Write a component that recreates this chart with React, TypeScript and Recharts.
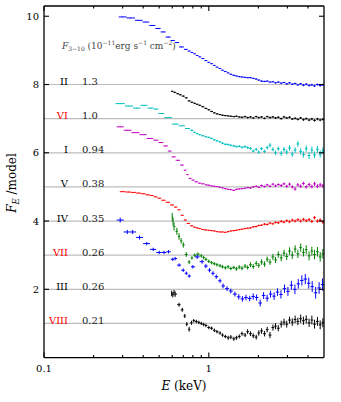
import React from 'react';
import { ScatterChart, Scatter, XAxis, YAxis, ErrorBar, ReferenceLine } from 'recharts';

type Pt = [number, number, number]; // [E (keV), F_E/model + offset, error]

const X_DOMAIN: [number, number] = [0.1, 5];
const Y_DOMAIN: [number, number] = [0, 10.3];
const X_MAJOR = [0.1, 1];
const X_TICKS = [0.1, 0.2, 0.3, 0.4, 0.5, 0.6, 0.7, 0.8, 0.9, 1, 2, 3, 4];
const Y_TICKS = [2, 4, 6, 8, 10];

const NAMES = ['II', 'VI', 'I', 'V', 'IV', 'VII', 'III', 'VIII'];
const FLUXES = ['1.3', '1.0', '0.94', '0.38', '0.35', '0.26', '0.26', '0.21'];
const BASELINES = [8, 7, 6, 5, 4, 3, 2, 1];

const SPEC_II: Pt[] = [
  [0.300, 9.98, 0.01], [0.335, 9.95, 0.01], [0.379, 9.88, 0.01], [0.415, 9.83, 0.01], [0.456, 9.73, 0.01],
  [0.493, 9.64, 0.01], [0.528, 9.54, 0.01], [0.567, 9.39, 0.01], [0.608, 9.29, 0.01], [0.637, 9.23, 0.01],
  [0.683, 9.10, 0.01], [0.73, 9.03, 0.01], [0.76, 8.98, 0.01], [0.79, 8.94, 0.01], [0.82, 8.90, 0.01],
  [0.85, 8.85, 0.01], [0.88, 8.81, 0.01], [0.92, 8.76, 0.01], [0.96, 8.70, 0.01], [1.00, 8.65, 0.01],
  [1.04, 8.61, 0.01], [1.08, 8.56, 0.01], [1.12, 8.51, 0.01], [1.17, 8.47, 0.01], [1.21, 8.42, 0.01],
  [1.26, 8.38, 0.01], [1.31, 8.34, 0.01], [1.36, 8.30, 0.015], [1.42, 8.27, 0.015], [1.47, 8.25, 0.015],
  [1.53, 8.23, 0.015], [1.59, 8.22, 0.015], [1.66, 8.21, 0.015], [1.72, 8.20, 0.015], [1.79, 8.20, 0.015],
  [1.86, 8.18, 0.015], [1.94, 8.16, 0.02], [2.01, 8.13, 0.02], [2.09, 8.10, 0.02], [2.18, 8.09, 0.02],
  [2.26, 8.10, 0.02], [2.35, 8.07, 0.02], [2.45, 8.08, 0.02], [2.54, 8.05, 0.02], [2.64, 8.07, 0.02],
  [2.75, 8.04, 0.02], [2.86, 8.06, 0.02], [2.97, 8.02, 0.025], [3.09, 8.05, 0.025], [3.21, 8.01, 0.025],
  [3.34, 8.03, 0.025], [3.47, 7.99, 0.025], [3.61, 8.02, 0.025], [3.75, 7.98, 0.03], [3.90, 8.01, 0.03],
  [4.06, 7.97, 0.03], [4.22, 7.99, 0.03], [4.38, 7.96, 0.03], [4.56, 8.00, 0.03], [4.74, 7.97, 0.03],
  [4.92, 7.99, 0.03],
];

const SPEC_VI: Pt[] = [
  [0.60, 7.80, 0.02], [0.62, 7.77, 0.02], [0.65, 7.73, 0.02], [0.67, 7.70, 0.02], [0.70, 7.66, 0.02],
  [0.73, 7.61, 0.02], [0.76, 7.52, 0.02], [0.79, 7.48, 0.02], [0.82, 7.45, 0.02], [0.85, 7.42, 0.02],
  [0.88, 7.39, 0.02], [0.92, 7.35, 0.02], [0.96, 7.30, 0.02], [1.00, 7.26, 0.02], [1.04, 7.21, 0.02],
  [1.08, 7.17, 0.02], [1.12, 7.14, 0.02], [1.17, 7.12, 0.02], [1.21, 7.10, 0.02], [1.26, 7.09, 0.02],
  [1.31, 7.08, 0.02], [1.36, 7.07, 0.02], [1.42, 7.06, 0.02], [1.47, 7.07, 0.02], [1.53, 7.05, 0.02],
  [1.59, 7.04, 0.025], [1.66, 7.06, 0.025], [1.72, 7.03, 0.025], [1.79, 7.05, 0.025], [1.86, 7.02, 0.025],
  [1.94, 7.06, 0.025], [2.01, 7.03, 0.025], [2.09, 7.05, 0.025], [2.18, 7.01, 0.025], [2.26, 7.06, 0.025],
  [2.35, 7.03, 0.03], [2.45, 7.05, 0.03], [2.54, 7.02, 0.03], [2.64, 7.04, 0.03], [2.75, 7.00, 0.03],
  [2.86, 7.05, 0.03], [2.97, 7.02, 0.03], [3.09, 7.04, 0.03], [3.21, 6.99, 0.03], [3.34, 7.01, 0.03],
  [3.47, 6.98, 0.03], [3.61, 7.02, 0.03], [3.75, 6.97, 0.035], [3.90, 7.00, 0.035], [4.06, 6.96, 0.035],
  [4.22, 6.99, 0.035], [4.38, 6.95, 0.035], [4.56, 6.99, 0.035], [4.74, 6.96, 0.035], [4.92, 6.98, 0.035],
];

const SPEC_I: Pt[] = [
  [0.29, 7.44, 0.01], [0.33, 7.37, 0.01], [0.365, 7.31, 0.01], [0.405, 7.39, 0.01], [0.445, 7.31, 0.01],
  [0.48, 7.28, 0.01], [0.51, 7.15, 0.01], [0.565, 7.03, 0.01], [0.63, 6.84, 0.01], [0.685, 6.79, 0.01],
  [0.75, 6.71, 0.015], [0.79, 6.66, 0.02], [0.82, 6.60, 0.02], [0.85, 6.56, 0.02], [0.88, 6.53, 0.02],
  [0.92, 6.50, 0.02], [0.96, 6.47, 0.02], [1.00, 6.45, 0.025], [1.04, 6.42, 0.025], [1.08, 6.38, 0.025],
  [1.12, 6.35, 0.025], [1.17, 6.32, 0.025], [1.21, 6.28, 0.03], [1.26, 6.25, 0.03], [1.31, 6.24, 0.03],
  [1.36, 6.22, 0.03], [1.42, 6.20, 0.03], [1.47, 6.18, 0.03], [1.53, 6.19, 0.03], [1.59, 6.16, 0.035],
  [1.66, 6.18, 0.035], [1.72, 6.15, 0.035], [1.79, 6.13, 0.04], [1.86, 6.05, 0.04], [1.94, 6.10, 0.04],
  [2.01, 6.02, 0.05], [2.09, 6.12, 0.05], [2.18, 6.04, 0.05], [2.26, 6.15, 0.05], [2.35, 6.22, 0.06],
  [2.45, 6.10, 0.06], [2.54, 6.00, 0.06], [2.64, 6.12, 0.06], [2.75, 5.98, 0.07], [2.86, 6.10, 0.07],
  [2.97, 6.02, 0.07], [3.09, 6.14, 0.08], [3.21, 5.96, 0.08], [3.34, 6.08, 0.08], [3.47, 6.26, 0.08],
  [3.61, 6.04, 0.09], [3.75, 5.95, 0.09], [3.90, 6.12, 0.09], [4.06, 5.92, 0.1], [4.22, 6.08, 0.1],
  [4.38, 5.94, 0.1], [4.56, 6.10, 0.1], [4.74, 5.96, 0.1], [4.92, 6.06, 0.1],
];

const SPEC_V: Pt[] = [
  [0.29, 6.76, 0.01], [0.32, 6.66, 0.01], [0.36, 6.59, 0.01], [0.40, 6.53, 0.01], [0.44, 6.42, 0.01],
  [0.48, 6.37, 0.01], [0.51, 6.30, 0.01], [0.55, 6.20, 0.01], [0.58, 6.05, 0.01], [0.61, 5.88, 0.01],
  [0.65, 5.78, 0.01], [0.69, 5.64, 0.01], [0.72, 5.49, 0.01], [0.74, 5.36, 0.01], [0.77, 5.25, 0.01],
  [0.80, 5.20, 0.01], [0.84, 5.15, 0.01], [0.88, 5.11, 0.01], [0.92, 5.09, 0.01], [0.97, 5.06, 0.015],
  [1.00, 5.05, 0.015], [1.04, 5.03, 0.015], [1.08, 5.02, 0.015], [1.12, 5.01, 0.015], [1.17, 4.99, 0.015],
  [1.21, 4.97, 0.015], [1.26, 4.95, 0.02], [1.31, 4.93, 0.02], [1.36, 4.92, 0.02], [1.42, 4.90, 0.02],
  [1.47, 4.93, 0.02], [1.53, 4.94, 0.02], [1.59, 4.95, 0.02], [1.66, 4.96, 0.02], [1.72, 4.98, 0.02],
  [1.79, 4.97, 0.025], [1.86, 5.00, 0.025], [1.94, 5.02, 0.025], [2.01, 4.99, 0.025], [2.09, 5.04, 0.03],
  [2.18, 5.01, 0.03], [2.26, 5.06, 0.03], [2.35, 5.02, 0.03], [2.45, 5.08, 0.035], [2.54, 5.03, 0.035],
  [2.64, 5.07, 0.035], [2.75, 5.04, 0.04], [2.86, 5.09, 0.04], [2.97, 5.02, 0.04], [3.09, 5.08, 0.045],
  [3.21, 5.00, 0.045], [3.34, 4.94, 0.05], [3.47, 5.06, 0.05], [3.61, 5.02, 0.05], [3.75, 5.10, 0.05],
  [3.90, 5.00, 0.05], [4.06, 5.07, 0.055], [4.22, 5.01, 0.055], [4.38, 5.09, 0.06], [4.56, 5.02, 0.06],
  [4.74, 5.06, 0.06], [4.92, 5.03, 0.06],
];

const SPEC_IV: Pt[] = [
  [0.30, 4.86, 0.01], [0.325, 4.85, 0.01], [0.35, 4.84, 0.01], [0.375, 4.82, 0.01], [0.40, 4.80, 0.01],
  [0.425, 4.77, 0.01], [0.45, 4.75, 0.01], [0.475, 4.71, 0.01], [0.50, 4.67, 0.01], [0.53, 4.61, 0.01],
  [0.565, 4.55, 0.01], [0.60, 4.47, 0.01], [0.63, 4.41, 0.01], [0.66, 4.33, 0.01], [0.69, 4.17, 0.015],
  [0.72, 4.03, 0.015], [0.75, 3.93, 0.015], [0.79, 3.86, 0.015], [0.82, 3.82, 0.015], [0.85, 3.80, 0.015],
  [0.88, 3.78, 0.015], [0.92, 3.75, 0.015], [0.96, 3.74, 0.015], [1.00, 3.73, 0.015], [1.04, 3.72, 0.015],
  [1.08, 3.71, 0.015], [1.12, 3.69, 0.015], [1.17, 3.68, 0.015], [1.21, 3.68, 0.015], [1.26, 3.67, 0.015],
  [1.31, 3.69, 0.02], [1.36, 3.71, 0.02], [1.42, 3.72, 0.02], [1.47, 3.73, 0.02], [1.53, 3.75, 0.02],
  [1.59, 3.76, 0.02], [1.66, 3.78, 0.02], [1.72, 3.79, 0.02], [1.79, 3.80, 0.025], [1.86, 3.83, 0.025],
  [1.94, 3.84, 0.025], [2.01, 3.87, 0.025], [2.09, 3.88, 0.025], [2.18, 3.91, 0.03], [2.26, 3.90, 0.03],
  [2.35, 3.94, 0.03], [2.45, 3.92, 0.03], [2.54, 3.96, 0.03], [2.64, 3.95, 0.035], [2.75, 3.99, 0.035],
  [2.86, 3.97, 0.035], [2.97, 4.01, 0.035], [3.09, 3.98, 0.04], [3.21, 4.03, 0.04], [3.34, 4.00, 0.04],
  [3.47, 4.04, 0.04], [3.61, 4.00, 0.045], [3.75, 4.05, 0.045], [3.90, 4.01, 0.045], [4.06, 4.04, 0.05],
  [4.22, 3.99, 0.05], [4.38, 4.10, 0.05], [4.56, 4.00, 0.05], [4.74, 4.03, 0.05], [4.92, 3.97, 0.05],
];

const SPEC_VII: Pt[] = [
  [0.600, 4.12, 0.12], [0.607, 3.98, 0.12], [0.615, 3.84, 0.12], [0.64, 3.70, 0.1], [0.66, 3.55, 0.1],
  [0.68, 3.42, 0.08], [0.70, 3.30, 0.08], [0.73, 3.02, 0.07], [0.76, 2.80, 0.06], [0.79, 2.92, 0.05],
  [0.82, 3.00, 0.05], [0.86, 3.03, 0.05], [0.90, 2.98, 0.05], [0.93, 2.93, 0.05], [0.96, 2.88, 0.05],
  [1.00, 2.82, 0.05], [1.04, 2.78, 0.05], [1.08, 2.75, 0.05], [1.12, 2.72, 0.05], [1.17, 2.69, 0.05],
  [1.21, 2.66, 0.05], [1.26, 2.63, 0.05], [1.31, 2.66, 0.05], [1.36, 2.61, 0.05], [1.42, 2.64, 0.05],
  [1.47, 2.60, 0.06], [1.53, 2.65, 0.06], [1.59, 2.62, 0.06], [1.66, 2.68, 0.06], [1.72, 2.64, 0.06],
  [1.79, 2.72, 0.07], [1.86, 2.67, 0.07], [1.94, 2.76, 0.07], [2.01, 2.70, 0.07], [2.09, 2.80, 0.08],
  [2.18, 2.74, 0.08], [2.26, 2.88, 0.08], [2.35, 2.80, 0.08], [2.45, 2.95, 0.09], [2.54, 2.86, 0.09],
  [2.64, 3.02, 0.09], [2.75, 2.92, 0.1], [2.86, 3.06, 0.1], [2.97, 2.96, 0.1], [3.09, 3.12, 0.11],
  [3.21, 3.00, 0.11], [3.34, 3.18, 0.11], [3.47, 3.04, 0.12], [3.61, 3.22, 0.12], [3.75, 3.08, 0.12],
  [3.90, 3.16, 0.13], [4.06, 2.98, 0.13], [4.22, 3.12, 0.13], [4.38, 3.02, 0.14], [4.56, 3.10, 0.14],
  [4.74, 2.95, 0.14], [4.92, 3.04, 0.14],
];

const SPEC_III: Pt[] = [
  [0.29, 4.03, 0.07], [0.32, 3.68, 0.06], [0.345, 3.68, 0.06], [0.38, 3.52, 0.06], [0.42, 3.34, 0.05],
  [0.46, 3.17, 0.05], [0.50, 3.08, 0.05], [0.535, 3.08, 0.05], [0.57, 3.10, 0.05], [0.605, 2.88, 0.05],
  [0.625, 2.90, 0.05], [0.66, 2.71, 0.05], [0.70, 2.56, 0.05], [0.73, 2.47, 0.05], [0.76, 2.39, 0.05],
  [0.80, 2.66, 0.05], [0.85, 2.95, 0.06], [0.91, 2.81, 0.06], [0.96, 2.68, 0.06], [1.01, 2.56, 0.06],
  [1.06, 2.47, 0.06], [1.11, 2.37, 0.06], [1.17, 2.25, 0.06], [1.22, 2.10, 0.07], [1.29, 2.02, 0.07],
  [1.36, 1.95, 0.07], [1.44, 1.86, 0.07], [1.52, 1.78, 0.08], [1.60, 1.72, 0.08], [1.68, 1.76, 0.08],
  [1.77, 1.73, 0.08], [1.86, 1.79, 0.09], [1.95, 1.76, 0.09], [2.05, 1.60, 0.1], [2.15, 1.82, 0.1],
  [2.26, 1.74, 0.1], [2.37, 1.86, 0.1], [2.49, 1.80, 0.11], [2.61, 1.92, 0.11], [2.74, 1.85, 0.12],
  [2.88, 2.02, 0.12], [3.02, 1.94, 0.13], [3.17, 2.12, 0.13], [3.33, 2.00, 0.14], [3.49, 2.16, 0.14],
  [3.67, 2.26, 0.15], [3.85, 2.30, 0.15], [4.04, 2.18, 0.16], [4.24, 2.08, 0.16], [4.45, 1.90, 0.17],
  [4.67, 2.04, 0.17], [4.90, 2.14, 0.18],
];

const SPEC_VIII: Pt[] = [
  [0.595, 1.88, 0.08], [0.605, 1.84, 0.08], [0.615, 1.90, 0.08], [0.625, 1.86, 0.08], [0.66, 1.55, 0.06],
  [0.69, 1.40, 0.06], [0.715, 1.22, 0.06], [0.735, 0.98, 0.06], [0.76, 0.83, 0.07], [0.785, 1.02, 0.06],
  [0.81, 1.08, 0.05], [0.84, 1.06, 0.05], [0.87, 1.03, 0.05], [0.90, 1.00, 0.05], [0.93, 0.97, 0.05],
  [0.96, 0.94, 0.05], [1.00, 0.88, 0.05], [1.04, 0.86, 0.05], [1.08, 0.80, 0.05], [1.12, 0.76, 0.05],
  [1.17, 0.72, 0.05], [1.21, 0.66, 0.05], [1.26, 0.62, 0.05], [1.31, 0.58, 0.06], [1.36, 0.60, 0.06],
  [1.42, 0.55, 0.06], [1.47, 0.58, 0.06], [1.53, 0.62, 0.06], [1.59, 0.70, 0.06], [1.66, 0.66, 0.06],
  [1.72, 0.76, 0.07], [1.79, 0.70, 0.07], [1.86, 0.64, 0.07], [1.94, 0.60, 0.07], [2.01, 0.72, 0.08],
  [2.09, 0.78, 0.08], [2.18, 0.70, 0.08], [2.26, 0.82, 0.08], [2.35, 0.66, 0.09], [2.45, 0.88, 0.09],
  [2.54, 0.92, 0.09], [2.64, 0.86, 0.09], [2.75, 0.98, 0.1], [2.86, 1.04, 0.1], [2.97, 0.98, 0.1],
  [3.09, 1.10, 0.1], [3.21, 1.04, 0.11], [3.34, 1.12, 0.11], [3.47, 1.06, 0.11], [3.61, 1.14, 0.12],
  [3.75, 1.08, 0.12], [3.90, 1.12, 0.12], [4.06, 1.02, 0.12], [4.22, 1.10, 0.13], [4.38, 0.98, 0.13],
  [4.56, 1.06, 0.13], [4.74, 0.96, 0.13], [4.92, 1.02, 0.13],
];

const SPECTRA: Pt[][] = [SPEC_II, SPEC_VI, SPEC_I, SPEC_V, SPEC_IV, SPEC_VII, SPEC_III, SPEC_VIII];

// styles
const SERIES_COLORS = ['#0000ff', '#000000', '#00bfbf', '#bf00bf', '#ff0000', '#008000', '#0000ff', '#000000'];
const NAME_COLORS = ['#000000', '#ff0000', '#000000', '#000000', '#000000', '#ff0000', '#000000', '#ff0000'];
const FONT = '"DejaVu Serif", serif';
const FRAME_W = 1.3;
const TICK_W = 1.1;
// tick lengths expressed in axis units (≈5px and ≈2.5px inward)
const Y_TICK_LEN_MAJOR = 0.146;
const Y_TICK_LEN_MINOR = 0.073;
const X_TICK_FACTOR = Math.pow(10, 5 / 165);

function toRows(pts: Pt[]) {
  return pts.map((p, i) => {
    const prev = i > 0 ? pts[i - 1][0] : (p[0] * p[0]) / pts[i + 1][0];
    const next = i < pts.length - 1 ? pts[i + 1][0] : (p[0] * p[0]) / pts[i - 1][0];
    const lo = Math.sqrt(prev * p[0]);
    const hi = Math.sqrt(p[0] * next);
    return { E: p[0], F: p[1], dF: p[2], dE: [p[0] - lo, hi - p[0]] };
  });
}

const BottomTick = (props: any) => {
  const { x, y, payload } = props;
  const major = X_MAJOR.includes(payload.value);
  if (!major) return <g />;
  return (
    <text x={x} y={y + 14} textAnchor="middle" fontFamily={FONT} fontSize={10} fill="#000">
      {String(payload.value)}
    </text>
  );
};

const LeftTick = (props: any) => {
  const { x, y, payload } = props;
  return (
    <text x={x - 5} y={y} dy="0.36em" textAnchor="end" fontFamily={FONT} fontSize={10} fill="#000">
      {String(payload.value)}
    </text>
  );
};

const seriesLabel = (i: number) => (props: any) => {
  const vb = props.viewBox || {};
  const x = vb.x ?? 44;
  const y = vb.y ?? 0;
  return (
    <g>
      <text x={x + 24} y={y + 0.5} textAnchor="end" fontFamily={FONT} fontSize={10} fill={NAME_COLORS[i]}>
        {NAMES[i]}
      </text>
      <text x={x + 38} y={y + 0.5} textAnchor="start" fontFamily={FONT} fontSize={10} fill="#222">
        {FLUXES[i]}
      </text>
    </g>
  );
};

const headerLabel = () => (
  <text x={62} y={49} fontFamily={FONT} fontSize={9} fill="#444">
    <tspan fontStyle="italic">F</tspan>
    <tspan fontSize={6} dy={2}>3−10</tspan>
    <tspan dy={-2}> (10</tspan>
    <tspan fontSize={6} dy={-4}>−11</tspan>
    <tspan dy={4}>erg s</tspan>
    <tspan fontSize={6} dy={-4}>−1</tspan>
    <tspan dy={4}>  cm</tspan>
    <tspan fontSize={6} dy={-4}>−2</tspan>
    <tspan dy={4}>)</tspan>
  </text>
);

const xLabel = () => (
  <text x={184} y={389.5} textAnchor="middle" fontFamily={FONT} fontSize={12} fill="#000">
    <tspan fontStyle="italic">E</tspan>
    <tspan> (keV)</tspan>
  </text>
);

const yLabel = () => (
  <text
    x={16}
    y={183}
    transform="rotate(-90 16 183)"
    textAnchor="middle"
    fontFamily={FONT}
    fontSize={12}
    fill="#000"
  >
    <tspan fontStyle="italic">F</tspan>
    <tspan fontStyle="italic" fontSize={8.5} dy={2.5}>E</tspan>
    <tspan dy={-2.5}> /model</tspan>
  </text>
);

export default function App() {
  const rows = SPECTRA.map(toRows);
  const [x0, x1] = X_DOMAIN;
  const [y0, y1] = Y_DOMAIN;
  return (
    <div style={{ position: 'absolute', left: 0, top: 0, width: 341, height: 402, background: '#fff' }}>
      <ScatterChart
        width={341}
        height={402}
        margin={{ top: 0, right: 0, bottom: 14.4, left: 0 }}
      >
        <XAxis
          xAxisId="b"
          dataKey="E"
          type="number"
          scale="log"
          domain={X_DOMAIN}
          allowDataOverflow
          ticks={X_TICKS}
          interval={0}
          height={30}
          tickSize={0}
          tickMargin={0}
          tickLine={false}
          tick={<BottomTick />}
          axisLine={false}
          label={xLabel}
        />
        <XAxis
          xAxisId="t"
          orientation="top"
          type="number"
          scale="log"
          domain={X_DOMAIN}
          allowDataOverflow
          ticks={X_TICKS}
          height={6}
          tick={false}
          tickLine={false}
          axisLine={false}
          label={headerLabel}
        />
        <YAxis
          yAxisId="l"
          dataKey="F"
          type="number"
          domain={Y_DOMAIN}
          allowDataOverflow
          ticks={Y_TICKS}
          interval={0}
          width={44}
          tickSize={0}
          tickMargin={0}
          tickLine={false}
          tick={<LeftTick />}
          axisLine={false}
          label={yLabel}
        />
        <YAxis
          yAxisId="r"
          orientation="right"
          type="number"
          domain={Y_DOMAIN}
          allowDataOverflow
          width={17}
          tick={false}
          tickLine={false}
          axisLine={false}
        />
        {BASELINES.map((b, i) => (
          <ReferenceLine
            key={'ref' + i}
            xAxisId="b"
            yAxisId="l"
            y={b}
            stroke="#bdbdbd"
            strokeWidth={1.2}
            label={seriesLabel(i)}
          />
        ))}
        {rows.map((data, i) => (
          <Scatter
            key={'s' + i}
            xAxisId="b"
            yAxisId="l"
            data={data}
            isAnimationActive={false}
            shape={() => <g />}
          >
            <ErrorBar dataKey="dE" direction="x" width={0} stroke={SERIES_COLORS[i]} strokeWidth={1} isAnimationActive={false} />
            <ErrorBar dataKey="dF" direction="y" width={0} stroke={SERIES_COLORS[i]} strokeWidth={1} isAnimationActive={false} />
          </Scatter>
        ))}
        {/* x ticks, bottom and top, pointing inward */}
        {X_TICKS.map((t) => {
          const len = X_MAJOR.includes(t) ? Y_TICK_LEN_MAJOR : Y_TICK_LEN_MINOR;
          return (
            <ReferenceLine
              key={'xb' + t}
              xAxisId="b"
              yAxisId="l"
              segment={[{ x: t, y: y0 }, { x: t, y: y0 + len }]}
              stroke="#000000"
              strokeWidth={TICK_W}
              ifOverflow="visible"
            />
          );
        })}
        {X_TICKS.map((t) => {
          const len = X_MAJOR.includes(t) ? Y_TICK_LEN_MAJOR : Y_TICK_LEN_MINOR;
          return (
            <ReferenceLine
              key={'xt' + t}
              xAxisId="b"
              yAxisId="l"
              segment={[{ x: t, y: y1 - len }, { x: t, y: y1 }]}
              stroke="#000000"
              strokeWidth={TICK_W}
              ifOverflow="visible"
            />
          );
        })}
        {/* y ticks, left and right, pointing inward */}
        {Y_TICKS.map((t) => (
          <ReferenceLine
            key={'yl' + t}
            xAxisId="b"
            yAxisId="l"
            segment={[{ x: x0, y: t }, { x: x0 * X_TICK_FACTOR, y: t }]}
            stroke="#000000"
            strokeWidth={TICK_W}
            ifOverflow="visible"
          />
        ))}
        {Y_TICKS.map((t) => (
          <ReferenceLine
            key={'yr' + t}
            xAxisId="b"
            yAxisId="l"
            segment={[{ x: x1 / X_TICK_FACTOR, y: t }, { x: x1, y: t }]}
            stroke="#000000"
            strokeWidth={TICK_W}
            ifOverflow="visible"
          />
        ))}
        {/* plot frame */}
        <ReferenceLine xAxisId="b" yAxisId="l" y={y0} stroke="#000000" strokeWidth={FRAME_W} ifOverflow="visible" />
        <ReferenceLine xAxisId="b" yAxisId="l" y={y1} stroke="#000000" strokeWidth={FRAME_W} ifOverflow="visible" />
        <ReferenceLine xAxisId="b" yAxisId="l" x={x0} stroke="#000000" strokeWidth={FRAME_W} ifOverflow="visible" />
        <ReferenceLine xAxisId="b" yAxisId="l" x={x1} stroke="#000000" strokeWidth={FRAME_W} ifOverflow="visible" />
      </ScatterChart>
    </div>
  );
}
